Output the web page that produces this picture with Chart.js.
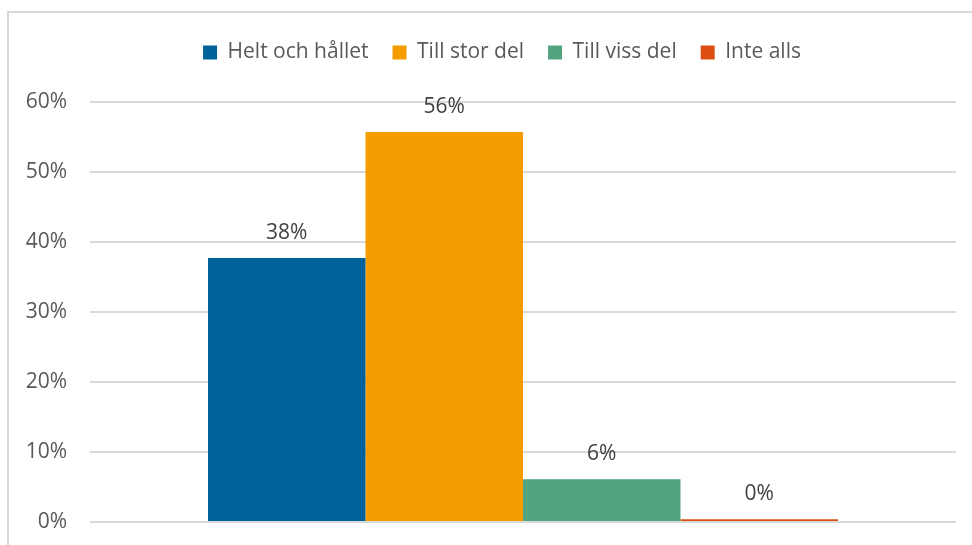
<!DOCTYPE html>
<html>
<head>
<meta charset="utf-8">
<script src="https://cdn.jsdelivr.net/npm/chart.js@4"></script>
<style>
  html, body { margin: 0; padding: 0; background: #fff; }
  body { width: 972px; height: 545px; position: relative; overflow: hidden; }
  #frame { position: absolute; left: 7px; top: 11px; width: 1000px; height: 600px;
           border: 2px solid #d9d9d9; box-sizing: border-box; }
  #wrap { position: absolute; left: 0; top: 0; width: 972px; height: 545px; }
</style>
</head>
<body>
<div id="frame"></div>
<div id="wrap"><canvas id="chart"></canvas></div>
<script>
// data
const categories = [""];
const seriesNames = ["Helt och hållet", "Till stor del", "Till viss del", "Inte alls"];
const seriesValues = [[37.7], [55.7], [6.1], [0.4]];
const seriesColors = ["#00629B", "#F59C00", "#52A47F", "#DD4E12"];
const yTicks = [0, 10, 20, 30, 40, 50, 60];

const FONT = "'Open Sans', sans-serif";

// legend gets a fixed height so the plot starts where the original does,
// and is nudged right to sit over the bars like in the original
const legendTweak = {
  id: "legendTweak",
  beforeInit(chart) {
    const fit = chart.legend.fit;
    chart.legend.fit = function () {
      fit.bind(chart.legend)();
      this.height = 84;
    };
  },
  afterLayout(chart) {
    chart.legend.left += 24;
    chart.legend.right += 24;
  },
};

const barLabels = {
  id: "barLabels",
  afterDatasetsDraw(chart) {
    const ctx = chart.ctx;
    ctx.save();
    ctx.font = "21px " + FONT;
    ctx.fillStyle = "#404040";
    ctx.textAlign = "center";
    ctx.textBaseline = "middle";
    chart.data.datasets.forEach((ds, i) => {
      const meta = chart.getDatasetMeta(i);
      meta.data.forEach((bar, j) => {
        ctx.fillText(Math.round(ds.data[j]) + "%", bar.x, bar.y - 25);
      });
    });
    ctx.restore();
  },
};

new Chart(document.getElementById("chart"), {
  type: "bar",
  data: {
    labels: categories,
    datasets: seriesNames.map((name, i) => ({
      label: name,
      data: seriesValues[i],
      backgroundColor: seriesColors[i],
      borderWidth: 0,
      barPercentage: 1,
      categoryPercentage: 0.7275,
    })),
  },
  options: {
    responsive: true,
    maintainAspectRatio: false,
    animation: false,
    layout: { padding: { top: 18, right: 16, bottom: 23, left: 0 } },
    scales: {
      x: { display: false },
      y: {
        min: 0,
        max: 60,
        afterFit: (scale) => { scale.width = 90; },
        afterBuildTicks: (scale) => { scale.ticks = yTicks.map((v) => ({ value: v })); },
        border: { display: false },
        grid: { color: "#d9d9d9", lineWidth: 2, drawTicks: true, tickLength: 23, tickColor: "rgba(0,0,0,0)" },
        ticks: {
          padding: 0,
          color: "#595959",
          font: { family: FONT, size: 21 },
          callback: (v) => v + "%",
        },
      },
    },
    plugins: {
      tooltip: { enabled: false },
      legend: {
        position: "top",
        labels: {
          boxWidth: 14,
          boxHeight: 14,
          padding: 24,
          color: "#595959",
          font: { family: FONT, size: 21 },
        },
      },
    },
  },
  plugins: [barLabels, legendTweak],
});
</script>
</body>
</html>
